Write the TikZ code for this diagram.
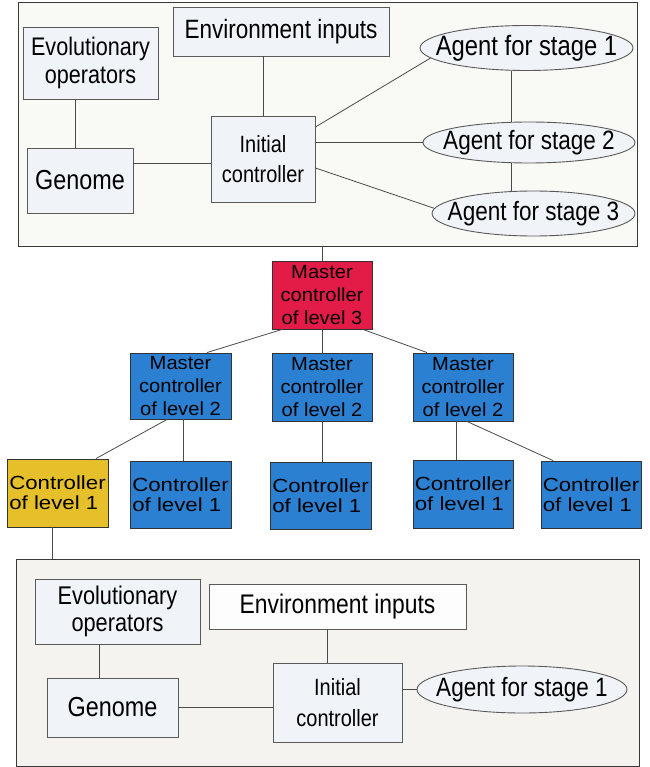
\documentclass[tikz,border=0pt]{standalone}
\usepackage{fontspec}
\setmainfont{Liberation Sans}
\newfontfamily\narrowsf{Liberation Sans}[FakeStretch=0.85]
\newfontfamily\mastersf{Liberation Sans}[FakeStretch=1.06]
\newfontfamily\widesf{Liberation Sans}[FakeStretch=1.17]
\usetikzlibrary{shapes.geometric}
\definecolor{panelA}{HTML}{F9F9F5}
\definecolor{panelB}{HTML}{F4F3EF}
\definecolor{boxfill}{HTML}{F0F4F8}
\definecolor{whitebox}{HTML}{FDFDFD}
\definecolor{panelline}{HTML}{3A3A3A}
\definecolor{boxline}{HTML}{5A5A5A}
\definecolor{darkline}{HTML}{333333}
\definecolor{linecol}{HTML}{4A4A4A}
\definecolor{redbox}{HTML}{E21B47}
\definecolor{bluebox}{HTML}{2B80D1}
\definecolor{yellowbox}{HTML}{E5C02A}
\begin{document}
\begin{tikzpicture}[x=1pt,y=-1pt,
  panel/.style={draw=panelline, line width=1pt, inner sep=0pt},
  pbox/.style={draw=boxline, fill=boxfill, line width=0.9pt, inner sep=0pt, align=center},
  agent/.style={ellipse, draw=boxline, fill=boxfill, line width=0.9pt, inner sep=0pt},
  agenttext/.style={font=\narrowsf\fontsize{26.5}{30}\selectfont, inner sep=0pt},
  mbox/.style={draw=darkline, line width=0.9pt, inner sep=0pt, align=center, minimum width=100pt, minimum height=68pt, font=\mastersf\fontsize{19}{23.3}\selectfont},
  cbox/.style={draw=darkline, line width=0.9pt, inner sep=0pt, align=left, fill=bluebox, minimum width=101pt, minimum height=67pt, font=\widesf\fontsize{19}{20}\selectfont},
  link/.style={draw=linecol, line width=0.8pt}
]
\useasboundingbox (0,0) rectangle (649,767);

% ---------- top panel ----------
\node[panel, fill=panelA, minimum width=619pt, minimum height=244pt] (toppanel) at (327.5,124.7) {};
\node[pbox, minimum width=135pt, minimum height=72pt, font=\narrowsf\fontsize{25.4}{28}\selectfont] (evol) at (90.5,63) {Evolutionary\\operators};
\node[pbox, minimum width=216pt, minimum height=49pt, font=\narrowsf\fontsize{26.5}{30}\selectfont] (env) at (281,31.5) {Environment inputs};
\node[pbox, minimum width=106pt, minimum height=65pt, font=\narrowsf\fontsize{27.5}{30}\selectfont] (genome) at (80,180.5) {Genome};
\node[pbox, minimum width=104pt, minimum height=86pt, font=\narrowsf\fontsize{23.5}{30}\selectfont] (init) at (263,159) {Initial\\controller};
\node[agent, minimum width=213pt, minimum height=45pt, label={[agenttext, font=\narrowsf\fontsize{28}{30}\selectfont]center:Agent for stage 1}] (ag1) at (526.5,48) {};
\node[agent, minimum width=212pt, minimum height=41pt, label={[agenttext]center:Agent for stage 2}] (ag2) at (529,142.5) {};
\node[agent, minimum width=203pt, minimum height=45pt, label={[agenttext]center:Agent for stage 3}] (ag3) at (533.5,213.5) {};

\draw[link] ([xshift=-15.5pt]evol.south) -- ([xshift=-15.5pt]evol.south |- genome.north);
\draw[link] (init.north) -- (init.north |- env.south);
\draw[link] ([yshift=-4pt]init.west) -- ([yshift=-4pt]init.west -| genome.east);
\draw[link] ([yshift=32pt]init.east) -- (ag1.186);
\draw[link] (ag2.west) -- (ag2.west -| init.east);
\draw[link] ([yshift=-9pt]init.east) -- (ag3.177);
\draw[link] ([xshift=-15.5pt]ag1.south) -- ([xshift=-18pt]ag2.north);
\draw[link] ([xshift=-18pt]ag2.south) -- ([xshift=-22.5pt]ag3.north);

% ---------- hierarchy ----------
\node[mbox, fill=redbox] (m3) at (322,295) {Master\\controller\\of level 3};
\node[mbox, fill=bluebox, minimum width=101pt, minimum height=66pt] (m2a) at (180.5,386) {Master\\controller\\of level 2};
\node[mbox, fill=bluebox] (m2b) at (322,387) {Master\\controller\\of level 2};
\node[mbox, fill=bluebox] (m2c) at (463,387) {Master\\controller\\of level 2};

\node[cbox, fill=yellowbox, minimum height=68pt] (c1a) at (57.5,493) {Controller\\of level 1};
\node[cbox] (c1b) at (180.5,494.5) {Controller\\of level 1};
\node[cbox] (c1c) at (320.5,495.5) {Controller\\of level 1};
\node[cbox, minimum width=100pt, minimum height=68pt] (c1d) at (463,494) {Controller\\of level 1};
\node[cbox, minimum width=100pt] (c1e) at (591,494.5) {Controller\\of level 1};

\draw[link] (m3.north) -- (m3.north |- toppanel.south);
\draw[link] ([xshift=-40pt]m3.south) -- ([xshift=26.5pt]m2a.north);
\draw[link] (m3.south) -- (m2b.north);
\draw[link] ([xshift=41pt]m3.south) -- ([xshift=-36pt]m2c.north);
\draw[link] ([xshift=-13.5pt]m2a.south) -- ([xshift=38.5pt]c1a.north);
\draw[link] ([xshift=2.5pt]m2a.south) -- ([xshift=2.5pt]c1b.north);
\draw[link] (m2b.south) -- (m2b.south |- c1c.north);
\draw[link] ([xshift=-7pt]m2c.south) -- ([xshift=-7pt]c1d.north);
\draw[link] ([xshift=4pt]m2c.south) -- ([xshift=-38pt]c1e.north);

% ---------- bottom panel ----------
\node[panel, fill=panelB, minimum width=623pt, minimum height=207pt] (botpanel) at (327.5,662.5) {};
\node[pbox, minimum width=165pt, minimum height=65pt, font=\narrowsf\fontsize{25.6}{27}\selectfont] (evol2) at (117.5,611.5) {Evolutionary\\operators};
\node[pbox, fill=whitebox, minimum width=257pt, minimum height=44.5pt, font=\narrowsf\fontsize{26.9}{30}\selectfont] (env2) at (337.5,606.75) {Environment inputs};
\node[pbox, minimum width=131pt, minimum height=59pt, font=\narrowsf\fontsize{27.5}{30}\selectfont] (genome2) at (112.5,707.5) {Genome};
\node[pbox, minimum width=129pt, minimum height=79pt, font=\narrowsf\fontsize{23.5}{31.6}\selectfont] (init2) at (337.5,702.5) {Initial\\controller};
\node[agent, minimum width=210pt, minimum height=47pt, label={[agenttext]center:Agent for stage 1}] (ag) at (522,689.5) {};

\draw[link] ([xshift=-5.5pt]c1a.south) -- ([xshift=-5.5pt]c1a.south |- botpanel.north);
\draw[link] ([xshift=-18.5pt]evol2.south) -- ([xshift=-18.5pt]evol2.south |- genome2.north);
\draw[link] ([xshift=-10.5pt]env2.south) -- ([xshift=-10.5pt]env2.south |- init2.north);
\draw[link] (genome2.east) -- (genome2.east -| init2.west);
\draw[link] (ag.west) -- (ag.west -| init2.east);
\end{tikzpicture}
\end{document}
